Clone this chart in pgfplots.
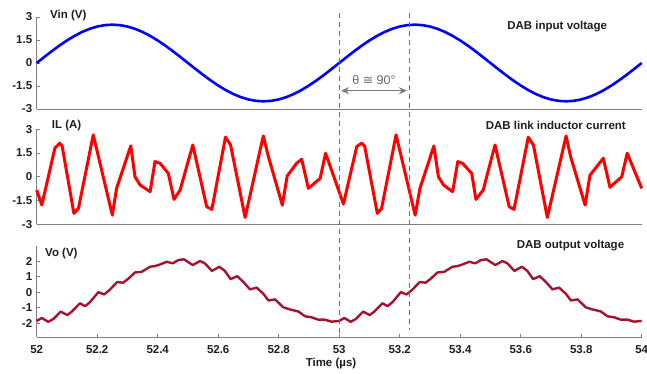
\documentclass[border=0pt]{standalone}
\usepackage{pgfplots}
\pgfplotsset{compat=1.18}
\usepackage{fontspec}
\setmainfont{Liberation Sans}
\newfontfamily\dejavu{DejaVu Sans}
\usetikzlibrary{arrows.meta}
\definecolor{axgray}{RGB}{128,128,128}
\definecolor{txtgray}{RGB}{30,30,30}
\definecolor{vocol}{RGB}{162,20,47}
\definecolor{annot}{RGB}{125,125,125}

\pgfplotstableread{
t v
52.000 0
52.025 0.391
52.050 0.773
52.075 1.135
52.100 1.469
52.125 1.768
52.150 2.023
52.175 2.228
52.200 2.378
52.225 2.469
52.250 2.500
52.275 2.469
52.300 2.378
52.325 2.228
52.350 2.023
52.375 1.768
52.400 1.469
52.425 1.135
52.450 0.773
52.475 0.391
52.500 0
52.525 -0.391
52.550 -0.773
52.575 -1.135
52.600 -1.469
52.625 -1.768
52.650 -2.023
52.675 -2.228
52.700 -2.378
52.725 -2.469
52.750 -2.500
52.775 -2.469
52.800 -2.378
52.825 -2.228
52.850 -2.023
52.875 -1.768
52.900 -1.469
52.925 -1.135
52.950 -0.773
52.975 -0.391
53.000 0
53.025 0.391
53.050 0.773
53.075 1.135
53.100 1.469
53.125 1.768
53.150 2.023
53.175 2.228
53.200 2.378
53.225 2.469
53.250 2.500
53.275 2.469
53.300 2.378
53.325 2.228
53.350 2.023
53.375 1.768
53.400 1.469
53.425 1.135
53.450 0.773
53.475 0.391
53.500 0
53.525 -0.391
53.550 -0.773
53.575 -1.135
53.600 -1.469
53.625 -1.768
53.650 -2.023
53.675 -2.228
53.700 -2.378
53.725 -2.469
53.750 -2.500
53.775 -2.469
53.800 -2.378
53.825 -2.228
53.850 -2.023
53.875 -1.768
53.900 -1.469
53.925 -1.135
53.950 -0.773
53.975 -0.391
54.000 0
}\vin

\pgfplotstableread{
t v
52.000 -0.84
52.017 -1.78
52.060 1.80
52.076 2.12
52.084 1.95
52.123 -2.31
52.138 -2.00
52.187 2.65
52.250 -2.42
52.264 -0.73
52.311 1.95
52.325 0.00
52.342 -0.52
52.375 -0.94
52.391 0.96
52.408 0.85
52.435 0.22
52.454 -1.43
52.474 -0.84
52.516 2.01
52.562 -1.89
52.579 -2.06
52.624 2.50
52.641 2.01
52.689 -2.57
52.749 2.58
52.766 1.27
52.812 -1.79
52.828 0.05
52.859 0.85
52.876 1.11
52.898 -0.73
52.937 -0.10
52.955 1.49
53.014 -1.72
53.058 1.91
53.074 2.12
53.084 1.95
53.126 -2.31
53.140 -2.00
53.188 2.65
53.251 -2.42
53.267 -0.73
53.313 1.95
53.328 0.00
53.345 -0.52
53.375 -0.94
53.392 0.96
53.408 0.85
53.438 0.22
53.452 -1.43
53.476 -0.84
53.515 2.01
53.562 -1.89
53.578 -2.06
53.625 2.50
53.642 2.01
53.688 -2.57
53.750 2.58
53.765 1.27
53.813 -1.79
53.829 0.10
53.860 0.85
53.873 1.17
53.895 -0.66
53.934 0.00
53.952 1.49
54.000 -0.73
}\il

\pgfplotstableread{
t v
52.000 -1.86
52.017 -1.67
52.038 -1.92
52.055 -1.74
52.079 -1.26
52.101 -1.48
52.116 -1.26
52.143 -0.72
52.160 -0.91
52.176 -0.65
52.204 0.00
52.223 -0.15
52.242 0.16
52.266 0.65
52.286 0.61
52.303 0.87
52.325 1.27
52.347 1.31
52.375 1.64
52.391 1.68
52.408 1.79
52.430 1.96
52.450 1.86
52.468 2.07
52.487 2.12
52.516 1.75
52.540 2.01
52.556 1.86
52.579 1.37
52.604 1.64
52.622 1.37
52.641 0.84
52.663 1.03
52.683 0.66
52.705 0.18
52.727 0.29
52.749 -0.10
52.766 -0.54
52.788 -0.47
52.815 -0.98
52.837 -1.12
52.865 -1.25
52.887 -1.56
52.909 -1.63
52.931 -1.78
52.953 -1.78
52.975 -1.91
53.000 -1.86
53.017 -1.67
53.038 -1.92
53.055 -1.74
53.079 -1.26
53.101 -1.48
53.116 -1.26
53.143 -0.72
53.160 -0.91
53.176 -0.65
53.204 0.00
53.223 -0.15
53.242 0.16
53.266 0.65
53.286 0.61
53.303 0.87
53.325 1.27
53.347 1.31
53.375 1.64
53.391 1.68
53.408 1.79
53.430 1.96
53.450 1.86
53.468 2.07
53.487 2.12
53.516 1.75
53.540 2.01
53.556 1.86
53.579 1.37
53.604 1.64
53.622 1.37
53.641 0.84
53.663 1.03
53.683 0.66
53.705 0.18
53.727 0.29
53.749 -0.10
53.766 -0.54
53.788 -0.47
53.815 -0.98
53.837 -1.12
53.865 -1.25
53.887 -1.56
53.909 -1.63
53.931 -1.78
53.953 -1.78
53.975 -1.91
54.000 -1.86
}\vo

\pgfplotsset{
  panel/.style={
    scale only axis,
    width=605pt,
    xmin=52, xmax=54,
    axis x line=bottom, axis y line=left,
    axis line style={-, draw=axgray, line width=0.8pt},
    tick style={draw=axgray, line width=0.8pt},
    major tick length=3pt,
    tick align=inside,
    ticklabel style={font=\fontsize{11.5}{13}\selectfont\bfseries, text=txtgray},
    /pgf/number format/assume math mode=true,
    yticklabel style={xshift=-1pt},
    anchor=south west,
    clip=false,
  }
}

\begin{document}
\begin{tikzpicture}[x=1pt,y=1pt]
\useasboundingbox (0,0) rectangle (647,374);

% Panel 1: Vin
\begin{axis}[panel, at={(36.7pt,265pt)}, height=92pt,
  ymin=-3, ymax=3, ytick={-3,-1.5,0,1.5,3},
  yticklabels={-3,-1.5,0,1.5,3},
  xtick=\empty]
\addplot[blue, line width=2.6pt] table[x=t,y=v] {\vin};
\end{axis}

% Panel 2: IL
\begin{axis}[panel, at={(36.7pt,149.7pt)}, height=95pt,
  ymin=-3, ymax=3, ytick={-3,-1.5,0,1.5,3},
  yticklabels={-3,-1.5,0,1.5,3},
  xtick=\empty]
\addplot[red, line width=3pt, line join=round] table[x=t,y=v] {\il};
\end{axis}

% Panel 3: Vo
\begin{axis}[panel, at={(36.7pt,37pt)}, height=91.3pt,
  ymin=-2.9, ymax=3, ytick={-2,-1,0,1,2},
  yticklabels={-2,-1,0,1,2},
  xtick={52,52.2,52.4,52.6,52.8,53,53.2,53.4,53.6,53.8,54},
  xticklabels={52,52.2,52.4,52.6,52.8,53,53.2,53.4,53.6,53.8,54},
  xticklabel style={yshift=-5pt}]
\addplot[vocol, line width=2.4pt, line join=round] table[x=t,y=v] {\vo};
\end{axis}

% annotations
\draw[annot!90!black, line width=0.9pt, dash pattern=on 5pt off 4pt] (339.2,361) -- (339.2,37);
\draw[annot!90!black, line width=0.9pt, dash pattern=on 5pt off 4pt] (409,361) -- (409,44);
\draw[annot, line width=1.5pt, {Stealth[length=8pt,width=7pt,inset=2.5pt]}-{Stealth[length=8pt,width=7pt,inset=2.5pt]}] (341,283.3) -- (407,283.3);
\node[text=annot!85!black, font=\fontsize{12.5}{14}\selectfont, inner sep=0pt] at (374,294) {θ {\dejavu ≅} 90°};

\begin{scope}[every node/.style={inner sep=0pt, text=txtgray, font=\fontsize{11.5}{13}\selectfont\bfseries}]
\node[anchor=west] at (50,358.3) {Vin (V)};
\node[anchor=west] at (51.7,248.3) {IL (A)};
\node[anchor=west] at (45,120) {Vo (V)};
\node at (557.2,347) {DAB input voltage};
\node at (555.8,249) {DAB link inductor current};
\node at (570.5,128.3) {DAB output voltage};
\node at (331,10) {Time (µs)};
\end{scope}
\end{tikzpicture}
\end{document}
